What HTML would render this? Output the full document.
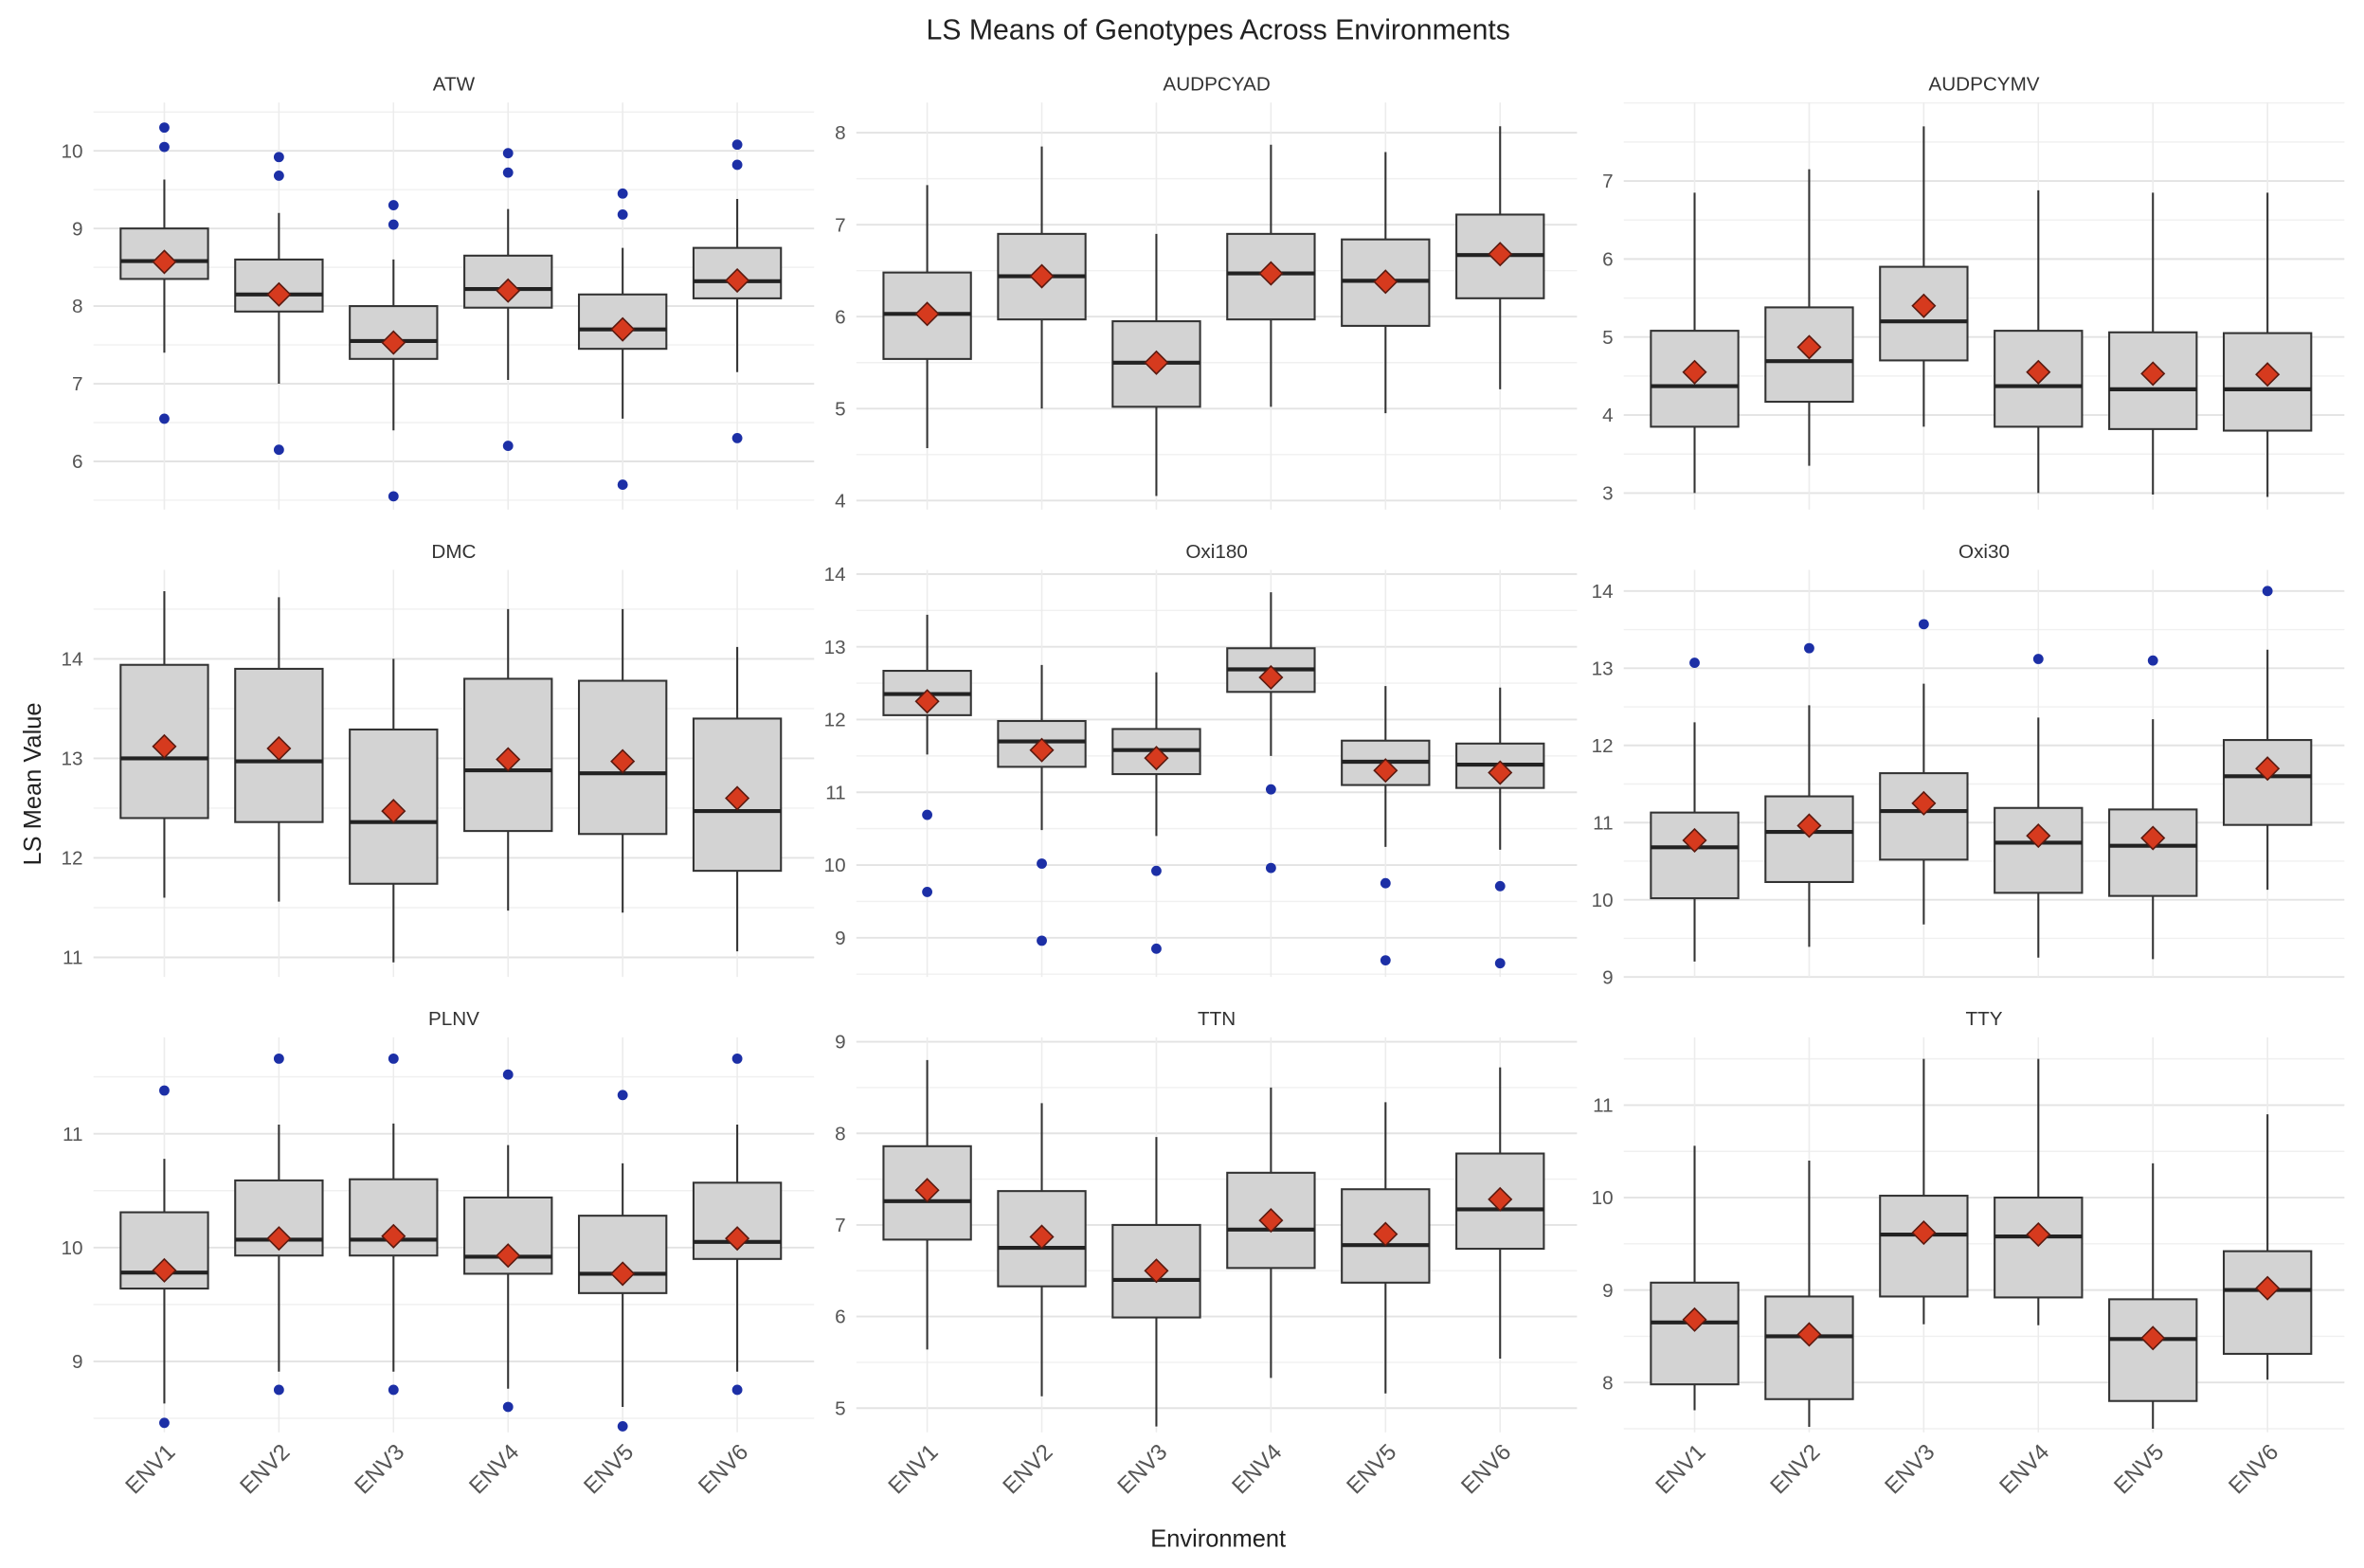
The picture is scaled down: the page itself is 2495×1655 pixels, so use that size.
<!DOCTYPE html>
<html><head><meta charset="utf-8"><style>
html,body{margin:0;padding:0;background:#fff;}
svg{display:block;font-family:"Liberation Sans",sans-serif;}
</style></head><body>
<svg id="chart" width="2495" height="1655" viewBox="0 0 1568 1040" xmlns="http://www.w3.org/2000/svg">
<text x="808" y="26" text-anchor="middle" font-size="19" fill="#222">LS Means of Genotypes Across Environments</text>
<text x="808" y="1026" text-anchor="middle" font-size="16" fill="#222">Environment</text>
<text x="0" y="0" transform="translate(27,520) rotate(-90)" text-anchor="middle" font-size="16" fill="#222">LS Mean Value</text>
<g id="panels"></g>
</svg>
<script>
const categories = ["ENV1","ENV2","ENV3","ENV4","ENV5","ENV6"];
const traitNames = ["ATW","AUDPCYAD","AUDPCYMV","DMC","Oxi180","Oxi30","PLNV","TTN","TTY"];
// per trait: [lowWhisker, q1, median, q3, highWhisker] per env
const atwBox = [[7.4,8.35,8.58,9.0,9.63],[7.0,7.93,8.15,8.6,9.2],[6.4,7.32,7.55,8.0,8.6],[7.05,7.98,8.22,8.65,9.25],[6.55,7.45,7.7,8.15,8.75],[7.15,8.1,8.32,8.75,9.38]];
const audpcyadBox = [[4.57,5.54,6.03,6.48,7.43],[5.0,5.97,6.44,6.9,7.85],[4.05,5.02,5.5,5.95,6.9],[5.02,5.97,6.47,6.9,7.87],[4.95,5.9,6.39,6.84,7.79],[5.21,6.2,6.67,7.11,8.07]];
const audpcymvBox = [[3.0,3.85,4.37,5.08,6.85],[3.35,4.17,4.69,5.38,7.15],[3.85,4.7,5.2,5.9,7.7],[3.0,3.85,4.37,5.08,6.88],[2.98,3.82,4.33,5.06,6.85],[2.95,3.8,4.33,5.05,6.85]];
const dmcBox = [[11.6,12.4,13.0,13.94,14.68],[11.56,12.36,12.97,13.9,14.62],[10.95,11.74,12.36,13.29,14.0],[11.47,12.27,12.88,13.8,14.5],[11.45,12.24,12.85,13.78,14.5],[11.06,11.87,12.47,13.4,14.12]];
const oxi180Box = [[11.52,12.06,12.35,12.67,13.44],[10.48,11.35,11.7,11.98,12.75],[10.4,11.25,11.58,11.87,12.65],[11.5,12.38,12.69,12.98,13.75],[10.25,11.1,11.42,11.71,12.46],[10.21,11.06,11.38,11.67,12.44]];
const oxi30Box = [[9.2,10.02,10.68,11.13,12.3],[9.39,10.23,10.88,11.34,12.52],[9.68,10.52,11.15,11.64,12.8],[9.25,10.09,10.74,11.19,12.36],[9.23,10.05,10.7,11.17,12.34],[10.13,10.97,11.6,12.07,13.24]];
const plnvBox = [[8.63,9.64,9.78,10.31,10.78],[8.91,9.93,10.07,10.59,11.08],[8.91,9.93,10.07,10.6,11.09],[8.76,9.77,9.92,10.44,10.9],[8.6,9.6,9.77,10.28,10.74],[8.91,9.9,10.05,10.57,11.08]];
const ttnBox = [[5.64,6.84,7.26,7.86,8.8],[5.13,6.33,6.75,7.37,8.33],[4.8,5.99,6.4,7.0,7.96],[5.33,6.53,6.95,7.57,8.5],[5.16,6.37,6.78,7.39,8.34],[5.54,6.74,7.17,7.78,8.72]];
const ttyBox = [[7.7,7.98,8.65,9.08,10.56],[7.52,7.82,8.5,8.93,10.4],[8.63,8.93,9.6,10.02,11.5],[8.62,8.92,9.58,10.0,11.5],[7.5,7.8,8.47,8.9,10.37],[8.03,8.31,9.0,9.42,10.9]];
const atwMean = [8.57,8.15,7.53,8.2,7.7,8.33];
const audpcyadMean = [6.03,6.44,5.5,6.47,6.38,6.68];
const audpcymvMean = [4.55,4.87,5.4,4.55,4.53,4.52];
const dmcMean = [13.12,13.1,12.47,12.99,12.97,12.6];
const oxi180Mean = [12.25,11.58,11.47,12.58,11.3,11.27];
const oxi30Mean = [10.77,10.96,11.25,10.83,10.8,11.7];
const plnvMean = [9.8,10.08,10.1,9.93,9.77,10.08];
const ttnMean = [7.38,6.87,6.5,7.05,6.9,7.28];
const ttyMean = [8.68,8.52,9.62,9.6,8.48,9.02];
const atwOut = [[10.3,10.05,6.55],[9.92,9.68,6.15],[9.3,9.05,5.55],[9.97,9.72,6.2],[9.45,9.18,5.7],[10.08,9.82,6.3]];
const audpcyadOut = [[],[],[],[],[],[]];
const audpcymvOut = [[],[],[],[],[],[]];
const dmcOut = [[],[],[],[],[],[]];
const oxi180Out = [[10.69,9.63],[10.02,8.96],[9.92,8.85],[11.04,9.96],[9.75,8.69],[9.71,8.65]];
const oxi30Out = [[13.07],[13.26],[13.57],[13.12],[13.1],[14.0]];
const plnvOut = [[11.38,8.46],[11.66,8.75],[11.66,8.75],[11.52,8.6],[11.34,8.43],[11.66,8.75]];
const ttnOut = [[],[],[],[],[],[]];
const ttyOut = [[],[],[],[],[],[]];
const atwTicks = [6,7,8,9,10];
const audpcyadTicks = [4,5,6,7,8];
const audpcymvTicks = [3,4,5,6,7];
const dmcTicks = [11,12,13,14];
const oxi180Ticks = [9,10,11,12,13,14];
const oxi30Ticks = [9,10,11,12,13,14];
const plnvTicks = [9,10,11];
const ttnTicks = [5,6,7,8,9];
const ttyTicks = [8,9,10,11];

const boxes=[atwBox,audpcyadBox,audpcymvBox,dmcBox,oxi180Box,oxi30Box,plnvBox,ttnBox,ttyBox];
const means=[atwMean,audpcyadMean,audpcymvMean,dmcMean,oxi180Mean,oxi30Mean,plnvMean,ttnMean,ttyMean];
const outs=[atwOut,audpcyadOut,audpcymvOut,dmcOut,oxi180Out,oxi30Out,plnvOut,ttnOut,ttyOut];
const ticks=[atwTicks,audpcyadTicks,audpcymvTicks,dmcTicks,oxi180Ticks,oxi30Ticks,plnvTicks,ttnTicks,ttyTicks];
const cal=[[10,100,6,306],[8,88,4,332],[7,120,3,327],[14,437,11,635],[13,429,9,622],[14,392,9,648],[11,752,9,903],[9,691,5,934],[11,733,8,917]];
const colLeft=[62,568,1077], rowTop=[68,378,688], rowBot=[338,648,950];
const NS="http://www.w3.org/2000/svg";
const root=document.getElementById('panels');
function mk(tag,attrs,parent){const e=document.createElementNS(NS,tag);for(const k in attrs)e.setAttribute(k,attrs[k]);parent.appendChild(e);return e;}
traitNames.forEach((name,p)=>{
  const c=p%3,r=Math.floor(p/3);
  const left=colLeft[c],right=left+478,top=rowTop[r],bot=rowBot[r];
  const [v1,p1,v2,p2]=cal[p];
  const y=v=>p1+(v-v1)*(p2-p1)/(v2-v1);
  const x=i=>left+47+i*76;
  const g=mk('g',{},root);
  
  
  const t=mk('text',{x:(left+right)/2,y:top-8,'text-anchor':'middle','font-size':13,fill:'#333'},g);
  t.textContent=name;
  
  
  const tk=ticks[p];
  const step=tk[1]-tk[0];
  for(let v=tk[0]-step*1.5;v<=tk[tk.length-1]+step*1.5;v+=step/2){
    const yy=y(v); if(yy<top||yy>bot) continue;
    const major=tk.indexOf(Math.round(v*100)/100)>=0;
    const l=mk('line',{x1:left,x2:right,y1:yy,y2:yy,stroke:major?'#e3e3e3':'#f0f0f0','stroke-width':major?1.2:0.9},g);
    
    
  }
  tk.forEach(v=>{
    const lt=mk('text',{x:left-7,y:y(v)+4.5,'text-anchor':'end','font-size':13,fill:'#555'},g);
    lt.textContent=v;
    
    
  });
  categories.forEach((cat,i)=>{
    const vl=mk('line',{x1:x(i),x2:x(i),y1:top,y2:bot,stroke:'#ececec','stroke-width':1},g);
    
    
    const b=boxes[p][i];
    const bg=mk('g',{},g);
    
    
    mk('line',{x1:x(i),x2:x(i),y1:y(b[4]),y2:y(b[0]),stroke:'#333','stroke-width':1.3},bg);
    mk('rect',{x:x(i)-29,y:y(b[3]),width:58,height:y(b[1])-y(b[3]),fill:'#d3d3d3',stroke:'#333','stroke-width':1.3},bg);
    mk('line',{x1:x(i)-29,x2:x(i)+29,y1:y(b[2]),y2:y(b[2]),stroke:'#222','stroke-width':2.6},bg);
    outs[p][i].forEach(o=>{
      const oc=mk('circle',{cx:x(i),cy:y(o),r:3.4,fill:'#1c2fa6'},g);
      
      
    });
    const m=y(means[p][i]),cx=x(i),d=7.5;
    const dm=mk('polygon',{points:`${cx},${m-d} ${cx+d},${m} ${cx},${m+d} ${cx-d},${m}`,fill:'#d63a1e',stroke:'#5a1a10','stroke-width':1},g);
    
    
    if(r===2){
      const xl=mk('text',{x:0,y:0,transform:`translate(${cx+8},${bot+14}) rotate(-45)`,'text-anchor':'end','font-size':15,fill:'#555'},g);
      xl.textContent=cat;
      
      
    }
  });
});
</script>
</body></html>
